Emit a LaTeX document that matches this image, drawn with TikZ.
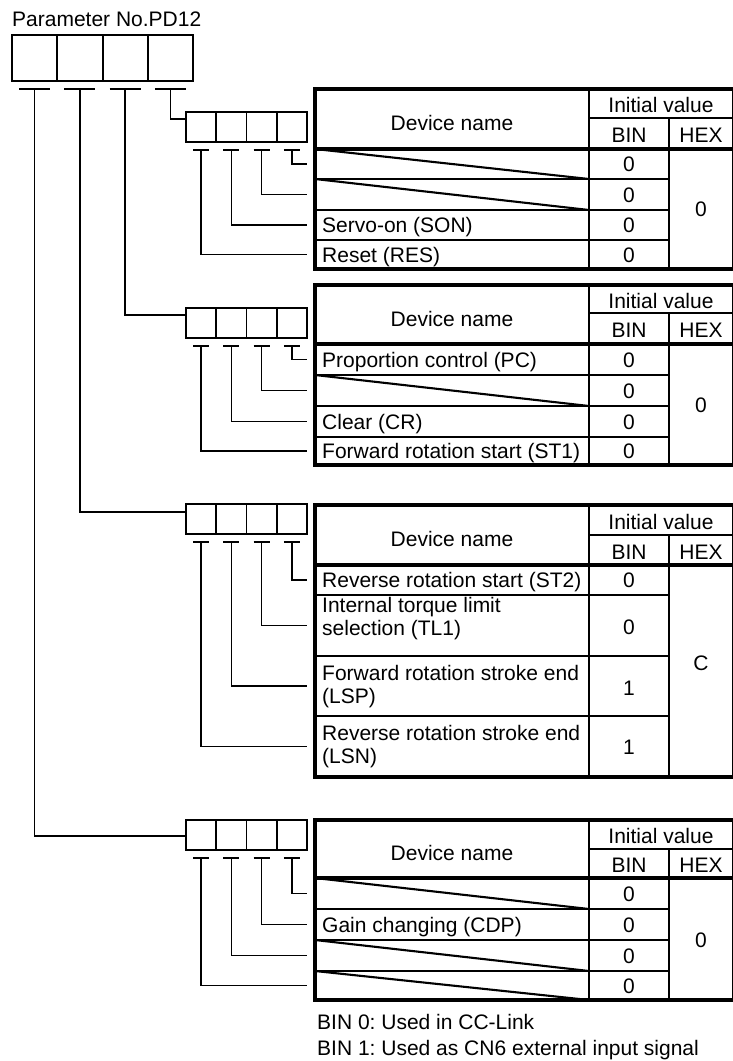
\documentclass[tikz,border=0pt]{standalone}
\usepackage{fontspec}
\setmainfont{Liberation Sans}
\usetikzlibrary{calc}
\frenchspacing
\begin{document}
\begin{tikzpicture}[x=1pt,y=-1pt,font=\fontsize{21}{22.5}\selectfont\frenchspacing,
  pcell/.style={draw,line width=2pt,minimum width=45.25pt,minimum height=46pt,inner sep=0pt,outer sep=0pt},
  scell/.style={draw,line width=1.8pt,minimum width=30.25pt,minimum height=30pt,inner sep=0pt,outer sep=0pt},
  conn/.style={line width=1.6pt},
  tickln/.style={line width=2pt},
  outerln/.style={line width=3.2pt},
  innerln/.style={line width=2.7pt},
  slash/.style={line width=2.1pt},
  txt/.style={inner sep=0pt,text height=15pt,text depth=0pt},
  rowtxt/.style={txt,anchor=west},
  twotxt/.style={inner sep=0pt,anchor=north west,align=left}]
\useasboundingbox (0,0) rectangle (732,1061);

% title
\node[txt,anchor=west] (title) at (12,18.5) {Parameter No.PD12};

% parameter box
\foreach \i in {1,...,4}{
  \node[pcell] (p\i) at ({12+45.25*(\i-0.5)},58) {};
  \coordinate (pt\i) at ($(p\i.south)+(0,8)$);
  \draw[tickln] ($(pt\i)+(-15.5,0)$) -- ($(pt\i)+(15.5,0)$);
}

% small boxes
\foreach \k/\top/\off in {1/112/7,2/308/7,3/504/8,4/820/16}{
  \foreach \i in {1,...,4}{
    \node[scell] (b\k-\i) at ({186+30.25*(\i-0.5)},{\top+15}) {};
    \coordinate (bt\k-\i) at ($(b\k-\i.south)+(0,8)$);
    \draw[tickln] ($(bt\k-\i)+(-8,0)$) -- ($(bt\k-\i)+(8,0)$);
  }
  \coordinate (in\k) at ($(b\k-1.north west)+(0,\off)$);
}

% main connectors
\draw[conn] (pt4) |- (in1);
\draw[conn] (pt3) |- (in2);
\draw[conn] (pt2) |- (in3);
\draw[conn] (pt1) |- (in4);

% tables
\foreach \k/\T/\iv/\hb/\ra/\rb/\rc/\B in {1/89/118/149/179/210/240/269,2/285/313/344/375/406/437/465,3/505/535/565/595/656/716/777,4/820/849/878/909/940/971/1000}{
  \draw[innerln] (589,\T) -- (589,\B);
  \draw[innerln] (669,\iv) -- (669,\B);
  \draw[innerln] (589,\iv) -- (736,\iv);
  \draw[innerln] (315,\ra) -- (669,\ra);
  \draw[innerln] (315,\rb) -- (669,\rb);
  \draw[innerln] (315,\rc) -- (669,\rc);
  \draw[outerln] (315,\hb) -- (736,\hb);
  \draw[outerln] (736,\T) -- (315,\T) -- (315,\B) -- (736,\B);
  \draw[outerln] (734,\T) -- (734,\B);
  \coordinate (r\k-1) at (307,{(\hb+\ra)/2});
  \coordinate (r\k-2) at (307,{(\ra+\rb)/2});
  \coordinate (r\k-3) at (307,{(\rb+\rc)/2});
  \coordinate (r\k-4) at (307,{(\rc+\B)/2});
  \draw[conn] (bt\k-4) |- (r\k-1);
  \draw[conn] (bt\k-3) |- (r\k-2);
  \draw[conn] (bt\k-2) |- (r\k-3);
  \draw[conn] (bt\k-1) |- (r\k-4);
  \node[txt] (dn\k) at (452,{(\T+\hb)/2+4}) {Device name};
  \node[txt] (iv\k) at (661,{(\T+\iv)/2+1.5}) {Initial value};
  \node[txt] (bin\k) at (629,{(\iv+\hb)/2+1.5}) {BIN};
  \node[txt] (hex\k) at (701,{(\iv+\hb)/2+1.5}) {HEX};
}

% slashes
\draw[slash] (315,149) -- (589,179);
\draw[slash] (315,179) -- (589,210);
\draw[slash] (315,375) -- (589,406);
\draw[slash] (315,878) -- (589,909);
\draw[slash] (315,940) -- (589,971);
\draw[slash] (315,971) -- (589,1000);

% table 1 texts
\node[rowtxt] (n1-3) at (322,225) {Servo-on (SON)};
\node[rowtxt] (n1-4) at (322,254.5) {Reset (RES)};
\node[txt] (v1-1) at (629,164) {0};
\node[txt] (v1-2) at (629,194.5) {0};
\node[txt] (v1-3) at (629,225) {0};
\node[txt] (v1-4) at (629,254.5) {0};
\node[txt] (h1) at (701,209) {0};

% table 2 texts
\node[rowtxt] (n2-1) at (322,359.5) {Proportion control (PC)};
\node[rowtxt] (n2-3) at (322,421.5) {Clear (CR)};
\node[rowtxt] (n2-4) at (322,451) {Forward rotation start (ST1)};
\node[txt] (v2-1) at (629,359.5) {0};
\node[txt] (v2-2) at (629,390.5) {0};
\node[txt] (v2-3) at (629,421.5) {0};
\node[txt] (v2-4) at (629,451) {0};
\node[txt] (h2) at (701,405) {0};

% table 3 texts
\node[rowtxt] (n3-1) at (322,580) {Reverse rotation start (ST2)};
\node[twotxt] (n3-2) at (322,597.5) {Internal torque limit\\selection (TL1)};
\node[twotxt] (n3-3) at (322,665.5) {Forward rotation stroke end\\(LSP)};
\node[twotxt] (n3-4) at (322,725.5) {Reverse rotation stroke end\\(LSN)};
\node[txt] (v3-1) at (629,580) {0};
\node[txt] (v3-2) at (629,627) {0};
\node[txt] (v3-3) at (629,688) {1};
\node[txt] (v3-4) at (629,747) {1};
\node[txt] (h3) at (701,663) {C};

% table 4 texts
\node[rowtxt] (n4-2) at (322,924.5) {Gain changing (CDP)};
\node[txt] (v4-1) at (629,893.5) {0};
\node[txt] (v4-2) at (629,924.5) {0};
\node[txt] (v4-3) at (629,955.5) {0};
\node[txt] (v4-4) at (629,985.5) {0};
\node[txt] (h4) at (701,940) {0};

% notes
\node[txt,anchor=west] (note1) at (317,1022) {BIN 0: Used in CC-Link};
\node[txt,anchor=west] (note2) at (317,1048) {BIN 1: Used as CN6 external input signal};
\end{tikzpicture}
\end{document}
